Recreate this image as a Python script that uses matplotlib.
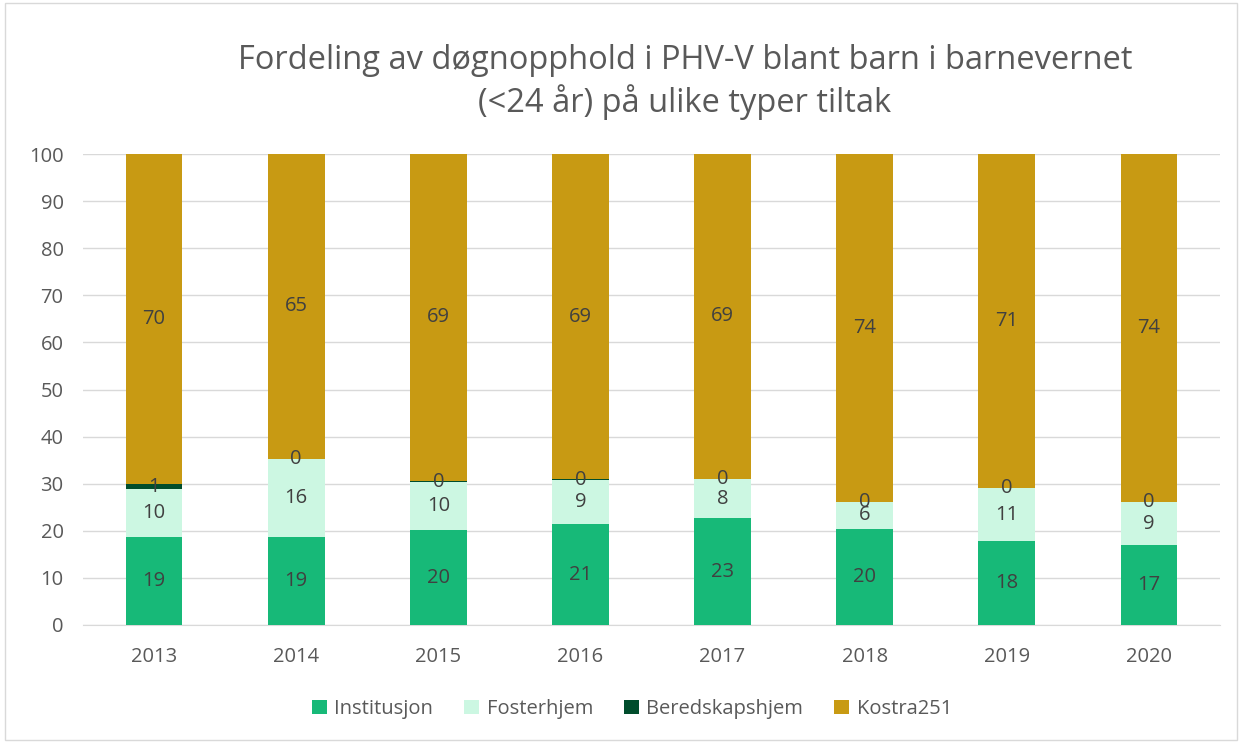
import matplotlib
matplotlib.use("Agg")
import matplotlib.pyplot as plt
from matplotlib.patches import Rectangle
import numpy as np

years = ["2013", "2014", "2015", "2016", "2017", "2018", "2019", "2020"]
institusjon = [18.6, 18.75, 20.1, 21.4, 22.7, 20.4, 17.9, 17.0]
fosterhjem = [10.2, 16.4, 10.2, 9.4, 8.2, 5.7, 11.1, 9.05]
beredskapshjem = [1.2, 0.2, 0.3, 0.1, 0.1, 0.0, 0.1, 0.0]
kostra251 = [70.0, 64.65, 69.4, 69.1, 69.0, 73.9, 70.9, 73.95]

series = [
    ("Institusjon", institusjon, "#17b978"),
    ("Fosterhjem", fosterhjem, "#ccf7e2"),
    ("Beredskapshjem", beredskapshjem, "#004d2c"),
    ("Kostra251", kostra251, "#c89a13"),
]

plt.rcParams['font.family'] = ['Open Sans', 'DejaVu Sans']
fig = plt.figure(figsize=(12.42, 7.43), dpi=100)
fig.patches.append(Rectangle((0.004, 0.004), 0.992, 0.992, transform=fig.transFigure,
                             fill=False, edgecolor="#d9d9d9", linewidth=1))
ax = fig.add_axes([83/1242, 118/743, 1137/1242, 471/743])

x = np.arange(len(years))
bottom = np.zeros(len(years))
for name, vals, col in series:
    vals = np.array(vals)
    ax.bar(x, vals, 0.40, bottom=bottom, color=col, label=name, zorder=3)
    for xi, b, v in zip(x, bottom, vals):
        ax.text(xi, b + v / 2, f"{int(np.floor(v + 0.5)):d}", ha="center", va="center",
                fontsize=14.5, color="#404040", zorder=4)
    bottom += vals

ax.set_xlim(-0.5, len(years) - 0.5)
ax.set_ylim(0, 100)
ax.set_yticks(range(0, 101, 10))
ax.set_xticks(x)
ax.set_xticklabels(years)
ax.yaxis.grid(True, color="#d9d9d9", linewidth=1, zorder=0)
for s in ["top", "right", "left"]:
    ax.spines[s].set_visible(False)
ax.spines["bottom"].set_color("#d9d9d9")
ax.tick_params(axis="both", length=0, labelsize=14.5, labelcolor="#595959")
ax.tick_params(axis="x", pad=16)
ax.tick_params(axis="y", pad=14)

fig.text(685/1242, 1 - 82/743, "Fordeling av døgnopphold i PHV-V blant barn i barnevernet\n(<24 år) på ulike typer tiltak",
         ha="center", va="center", fontsize=23.5, color="#595959", linespacing=1.25)

fig.legend(loc="center", bbox_to_anchor=(632/1242, 1 - 709/743), ncol=4, frameon=False,
           fontsize=14.5, labelcolor="#595959", handlelength=0.75, handleheight=0.75,
           handletextpad=0.35, columnspacing=1.55)

fig.savefig("out.png", dpi=100, facecolor="white")
